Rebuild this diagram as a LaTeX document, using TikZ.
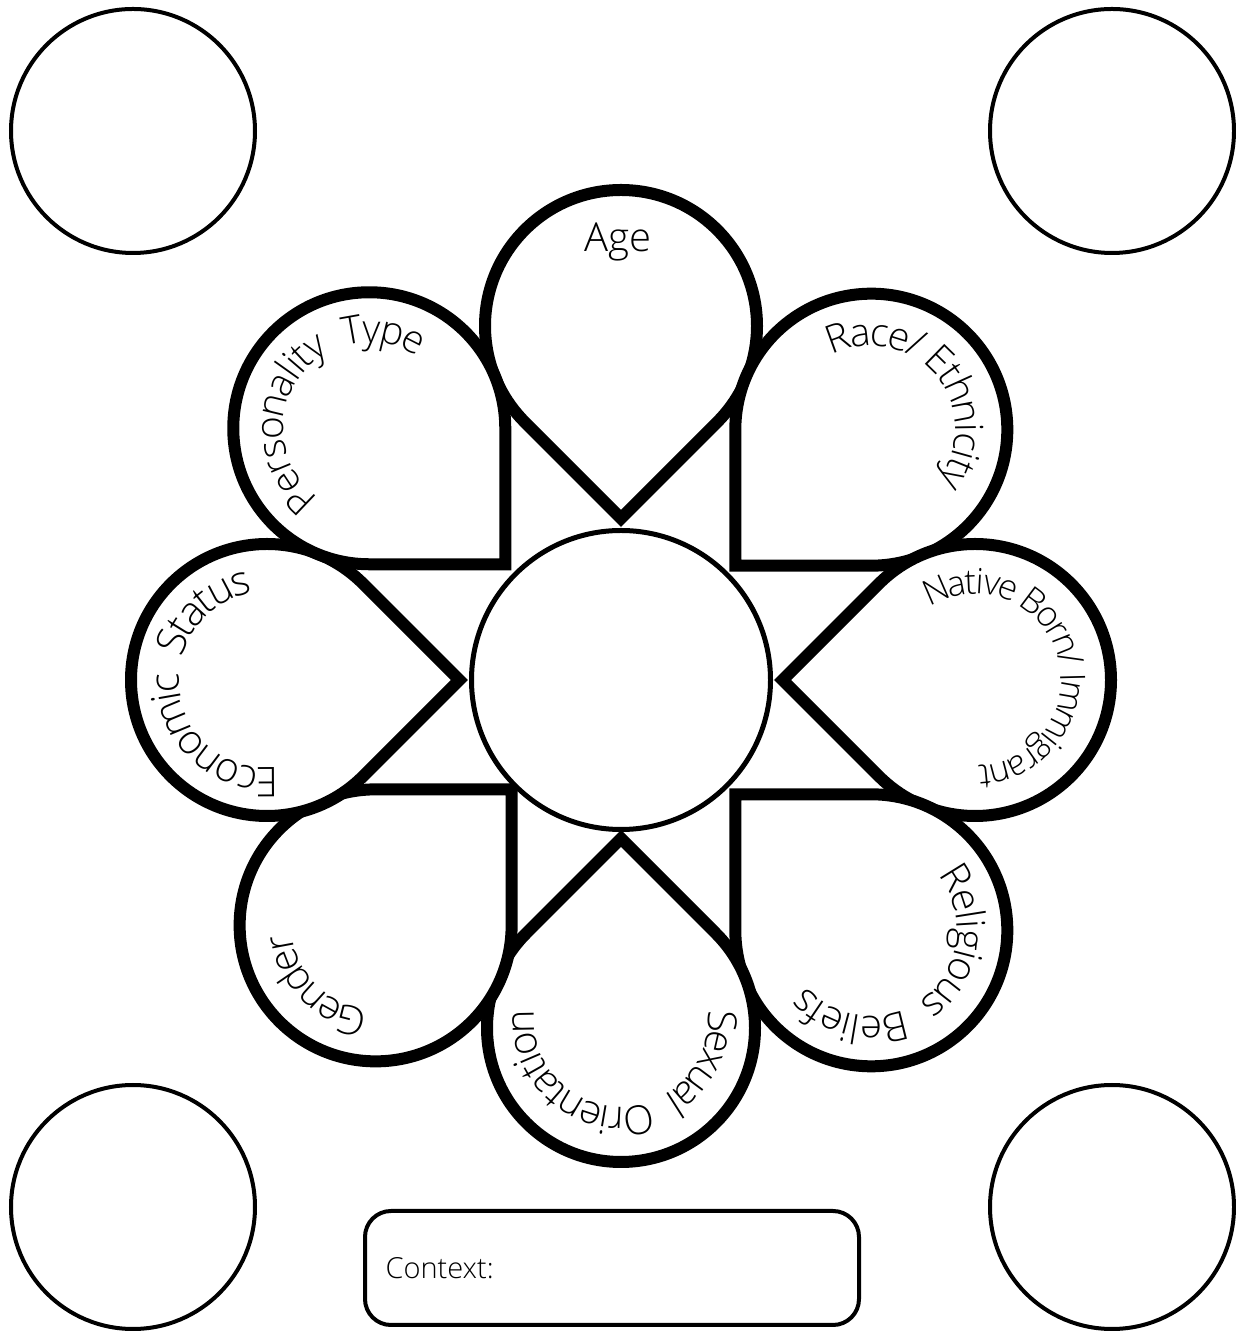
\documentclass[tikz,border=0pt]{standalone}
\usepackage{fontspec}
\IfFontExistsTF{Open Sans Light}{\setmainfont{Open Sans Light}}{\setmainfont{Open Sans}}
\usetikzlibrary{positioning, calc, decorations.text}
\tikzset{
  petal/.style={draw=black, fill=white, line width=12pt, line join=miter},
  hub/.style={
    circle, draw=black, fill=white, line width=5pt,
    minimum size=299pt, inner sep=0pt
  },
  blank/.style={
    circle, draw=black, line width=4pt,
    minimum size=244pt, inner sep=0pt
  },
  ctxbox/.style={
    rectangle, rounded corners=26pt, draw=black, line width=4pt,
    minimum width=494pt, minimum height=114pt, inner sep=0pt
  },
  arclabel/.style 2 args={
    decorate,
    decoration={text along path, text align=center, raise=#2, text={#1}}
  }
}
\newcommand{\lblsize}[1]{\fontsize{#1}{#1}\selectfont}

\begin{document}
\begin{tikzpicture}[x=1pt, y=1pt]
\useasboundingbox (0,0) rectangle (1236,1331);
\coordinate (c) at (621,651);

% ── corner circles ───────────────────────────────────────────
\node[blank] (tl) at (133,1200) {};
\node[blank] (tr) at (1112,1200) {};
\node[blank] (bl) at (133,124) {};
\node[blank] (br) at (1112,124) {};

% ── eight teardrop petals, tips toward the hub ───────────────
\foreach \a/\n/\d/\r in {90/age/354/136, 45/race/354/136,
                         0/native/354/136, -45/relig/354/136,
                         -90/sexual/348/134, -135/gender/347/136,
                         180/econ/354/136, 135/pers/356/136} {
  \coordinate (\n) at ($(c)+(\a:\d)$);
  \draw[petal] ($(\n)+(\a+225:\r)$)
      arc[start angle=\a+225, delta angle=270, radius=\r]
      -- ($(\n)+(\a+180:{\r*1.41421})$) -- cycle;
}

% ── hub ──────────────────────────────────────────────────────
\node[hub] (hubc) at (c) {};

% ── petal labels (clockwise, letters outward) ────────────────
\node[anchor=base, font=\lblsize{40}] (agelab) at (618,1079) {Age};
\path[arclabel={|\lblsize{39}|Personality {~}Type}{-10pt}]
  ($(pers)+(265:96)$) arc[start angle=265, end angle=25, radius=96];
\path[arclabel={|\lblsize{39}|Race/ Ethnicity}{-11pt}]
  ($(race)+(160:95)$) arc[start angle=160, end angle=-80, radius=95];
\path[arclabel={|\lblsize{35}|Native Born/ Immigrant}{-15pt}]
  ($(native)+(136.5:101)$) arc[start angle=136.5, end angle=-103.5, radius=101];
\path[arclabel={|\lblsize{40}|Religious {~}Beliefs}{-10pt}]
  ($(relig)+(70:96)$) arc[start angle=70, end angle=-170, radius=96];
\path[arclabel={|\lblsize{40}|Sexual {~}Orientation}{-16pt}]
  ($(sexual)+(0,8)+(30:103)$) arc[start angle=30, end angle=-210, radius=103];
\path[arclabel={|\lblsize{40}|Gender}{-16pt}]
  ($(gender)+(-15:100)$) arc[start angle=-15, end angle=-255, radius=100];
\path[arclabel={|\lblsize{41}|Economic {~}Status}{-14.5pt}]
  ($(econ)+(308.5:102.5)$) arc[start angle=308.5, end angle=68.5, radius=102.5];

% ── context box ──────────────────────────────────────────────
\node[ctxbox] (ctx) at (612,63) {};
\node[anchor=base west, font=\lblsize{29}] (ctxlab) at (382,52) {Context:};

\end{tikzpicture}
\end{document}
